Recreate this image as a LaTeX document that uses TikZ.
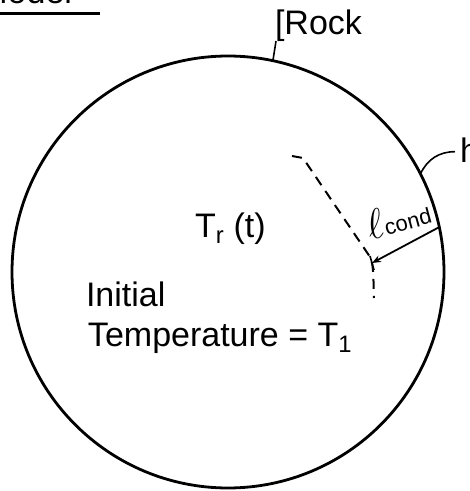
\RequirePackage{fix-cm}
\documentclass[tikz,border=0pt]{standalone}
\usepackage{fontspec}
\setmainfont{Liberation Sans}
\usetikzlibrary{arrows.meta,positioning,calc}
\definecolor{inkline}{HTML}{000000}

\begin{document}
\begin{tikzpicture}[x=1pt,y=1pt,font=\fontsize{34}{40}\selectfont,
label/.style={inner sep=0pt,outer sep=0pt,text=inkline},
leader/.style={line width=1.6pt,draw=inkline},
arrow/.style={-{Stealth[length=9pt,width=7pt]},line width=1.8pt,draw=inkline}]
\useasboundingbox (0,0) rectangle (470,491);
\node[draw=inkline,circle,line width=2.8pt,minimum size=432pt,inner sep=0pt,outer sep=0pt] (rock) at (228,219) {};
\node[label,anchor=base east] (model) at (72,487) {Model};
\draw[line width=3pt] (-2,477) -- (100,477);
\node[label,anchor=base west] (rocklbl) at (275,456) {[Rock};
\node[label,anchor=base west] (hlbl) at (460,328) {h};
\draw[leader] (rock.78) -- ($(rocklbl.south west)+(1,1)$);
\draw[leader] (rock.27) to[out=65,in=180] ($(hlbl.west)+(-5,-1)$);
\coordinate (tip) at (372,228);
\draw[arrow] (rock.12) -- (tip);
\draw[line width=1.6pt] ($(tip)+(-2,7)$) -- ($(tip)+(2,-7)$);
\node[label,rotate=15] (lcond) at (398,273)
 {{\fontsize{42}{42}\selectfont$\ell$}\raisebox{1pt}{\fontsize{22}{22}\selectfont cond}};
\coordinate (dashA) at (292,335);
\coordinate (dashB) at (303,333);
\coordinate (dashC) at (366,240);
\coordinate (dashD) at (374,193);
\draw[line width=2pt,dash pattern=on 10pt off 7pt] (dashA) -- (dashB) -- (dashC) .. controls (373,230) .. (dashD);
\node[label,anchor=base west] (temp) at (195,253) {T\textsubscript{r} (t)};
\node[label,anchor=base west] (init) at (86,184) {Initial};
\node[label,anchor=base west] (initval) at (88,144) {Temperature = T\textsubscript{1}};
\end{tikzpicture}
\end{document}
